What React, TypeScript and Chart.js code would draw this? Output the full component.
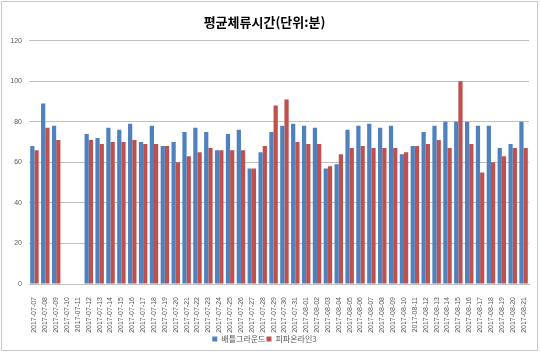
import React, { useEffect, useRef } from 'react';
import Chart from 'chart.js/auto';

const categories = [
  '2017-07-07', '2017-07-08', '2017-07-09', '2017-07-10', '2017-07-11', '2017-07-12', '2017-07-13',
  '2017-07-14', '2017-07-15', '2017-07-16', '2017-07-17', '2017-07-18', '2017-07-19', '2017-07-20',
  '2017-07-21', '2017-07-22', '2017-07-23', '2017-07-24', '2017-07-25', '2017-07-26', '2017-07-27',
  '2017-07-28', '2017-07-29', '2017-07-30', '2017-07-31', '2017-08-01', '2017-08-02', '2017-08-03',
  '2017-08-04', '2017-08-05', '2017-08-06', '2017-08-07', '2017-08-08', '2017-08-09', '2017-08-10',
  '2017-08-11', '2017-08-12', '2017-08-13', '2017-08-14', '2017-08-15', '2017-08-16', '2017-08-17',
  '2017-08-18', '2017-08-19', '2017-08-20', '2017-08-21',
];

const battlegrounds = [
  68, 89, 78, null, null, 74, 72, 77, 76, 79, 70, 78, 68, 70,
  75, 77, 75, 66, 74, 76, 57, 65, 75, 78, 79, 78, 77, 57,
  59, 76, 78, 79, 77, 78, 64, 68, 75, 78, 80, 80, 80, 78,
  78, 67, 69, 80,
];

const fifaOnline3 = [
  66, 77, 71, null, null, 71, 69, 70, 70, 71, 69, 69, 68, 60,
  63, 65, 67, 66, 66, 66, 57, 68, 88, 91, 70, 69, 69, 58,
  64, 67, 68, 67, 67, 67, 65, 68, 69, 71, 67, 100, 69, 55,
  60, 63, 67, 67,
];

const seriesNames = ['배틀그라운드', '피파온라인3'];
const titleText = '평균체류시간(단위:분)';

export default function App() {
  const ref = useRef<HTMLCanvasElement | null>(null);

  useEffect(() => {
    document.body.style.margin = '0';
    const ctx = ref.current!.getContext('2d')!;
    const chart = new Chart(ctx, {
      type: 'bar',
      data: {
        labels: categories,
        datasets: [
          {
            label: seriesNames[0],
            data: battlegrounds,
            backgroundColor: '#4F81BD',
            barPercentage: 1,
            categoryPercentage: 0.78,
          },
          {
            label: seriesNames[1],
            data: fifaOnline3,
            backgroundColor: '#C0504D',
            barPercentage: 1,
            categoryPercentage: 0.78,
          },
        ],
      },
      options: {
        responsive: false,
        animation: false,
        layout: { padding: { left: 0, right: 11, top: 0, bottom: 0 } },
        plugins: {
          title: {
            display: true,
            text: titleText,
            color: '#000',
            font: { family: '"Noto Sans CJK KR", sans-serif', size: 13, weight: 'bold', lineHeight: 1.2 },
            padding: { top: 14, bottom: 11 },
          },
          legend: {
            position: 'bottom',
            labels: {
              boxWidth: 5,
              boxHeight: 5,
              padding: 1,
              color: '#595959',
              font: { family: '"Noto Sans CJK KR", sans-serif', size: 8 },
            },
          },
          tooltip: { enabled: false },
        },
        scales: {
          x: {
            grid: { display: false },
            border: { display: true, color: '#BFBFBF' },
            ticks: {
              autoSkip: false,
              minRotation: 90,
              maxRotation: 90,
              padding: 5,
              color: '#595959',
              font: { family: '"Liberation Sans", sans-serif', size: 7 },
            },
            afterFit: (scale: any) => {
              scale.height = 50;
            },
          },
          y: {
            min: 0,
            max: 120,
            ticks: {
              stepSize: 20,
              padding: 7,
              color: '#595959',
              font: { family: '"Liberation Sans", sans-serif', size: 7 },
            },
            grid: { color: '#BFBFBF', drawTicks: false },
            border: { display: false },
            afterFit: (scale: any) => {
              scale.width = 29;
            },
          },
        },
      },
    });
    return () => chart.destroy();
  }, []);

  return (
    <div style={{ position: 'relative', width: 540, height: 353, background: '#fff' }}>
      <canvas ref={ref} width={540} height={353} style={{ position: 'absolute', left: 0, top: 0 }} />
      <div
        style={{
          position: 'absolute',
          left: 1,
          top: 1,
          width: 537,
          height: 350,
          border: '1px solid #C8C8C8',
          boxSizing: 'border-box',
          pointerEvents: 'none',
        }}
      />
    </div>
  );
}
